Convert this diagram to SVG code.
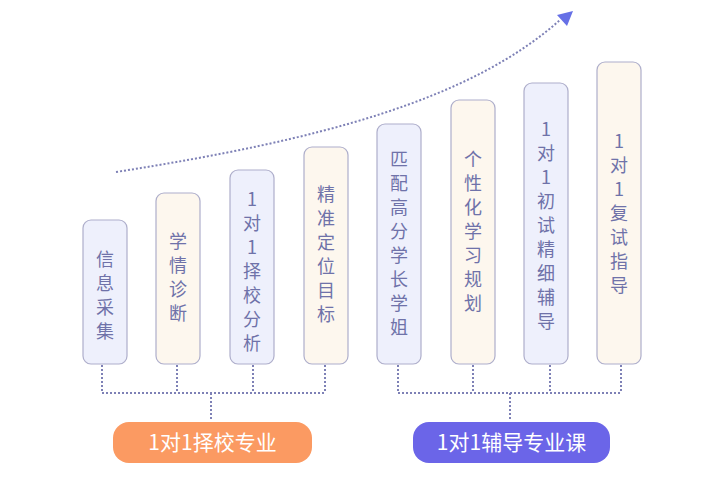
<svg xmlns="http://www.w3.org/2000/svg" width="726" height="480" viewBox="0 0 726 480">
<defs>
<style>
.bar{stroke:#aeaecb;stroke-width:1.2}
.lav{fill:#eef0fc}
.crm{fill:#fdf7ee}
.t{font-family:"Noto Sans CJK SC","Noto Sans",sans-serif;font-size:18px;fill:#6f72a9;text-anchor:middle}
.dot{fill:none;stroke:#7e81b6;stroke-width:2;stroke-dasharray:2 2}
.btxt{font-family:"Noto Sans CJK SC","Noto Sans",sans-serif;font-size:21px;fill:#ffffff;text-anchor:middle}
</style>
</defs>
<rect width="726" height="480" fill="#ffffff"/>
<g id="connectors">
<path class="dot" d="M116,172 C320,140 470,100 560,20"/>
<polygon points="573,11 557,15 567,26" fill="#6670e6"/>
<path class="dot" d="M102,365 V393 M177,365 V393 M253,365 V393 M325,365 V393 M102,393 H325 M211,393 V421"/>
<path class="dot" d="M398,365 V393 M473,365 V393 M550,365 V393 M621,365 V393 M398,393 H621 M510,393 V421"/>
</g>
<g id="n1"><rect class="bar lav" x="83" y="220" width="44" height="144" rx="8"/>
<text class="t" x="105"><tspan x="105" y="266">信</tspan><tspan x="105" y="290">息</tspan><tspan x="105" y="314">采</tspan><tspan x="105" y="338">集</tspan></text></g>
<g id="n2"><rect class="bar crm" x="156" y="193" width="44" height="171" rx="8"/>
<text class="t"><tspan x="178" y="248">学</tspan><tspan x="178" y="272">情</tspan><tspan x="178" y="296">诊</tspan><tspan x="178" y="320">断</tspan></text></g>
<g id="n3"><rect class="bar lav" x="230" y="170" width="44" height="194" rx="8"/>
<text class="t"><tspan x="252" y="206">1</tspan><tspan x="252" y="230">对</tspan><tspan x="252" y="254">1</tspan><tspan x="252" y="278">择</tspan><tspan x="252" y="302">校</tspan><tspan x="252" y="326">分</tspan><tspan x="252" y="350">析</tspan></text></g>
<g id="n4"><rect class="bar crm" x="304" y="147" width="44" height="217" rx="8"/>
<text class="t"><tspan x="326" y="201">精</tspan><tspan x="326" y="225">准</tspan><tspan x="326" y="249">定</tspan><tspan x="326" y="273">位</tspan><tspan x="326" y="297">目</tspan><tspan x="326" y="321">标</tspan></text></g>
<g id="n5"><rect class="bar lav" x="377" y="124" width="44" height="240" rx="8"/>
<text class="t"><tspan x="399" y="166">匹</tspan><tspan x="399" y="190">配</tspan><tspan x="399" y="214">高</tspan><tspan x="399" y="238">分</tspan><tspan x="399" y="262">学</tspan><tspan x="399" y="286">长</tspan><tspan x="399" y="310">学</tspan><tspan x="399" y="334">姐</tspan></text></g>
<g id="n6"><rect class="bar crm" x="451" y="100" width="44" height="264" rx="8"/>
<text class="t"><tspan x="473" y="166">个</tspan><tspan x="473" y="190">性</tspan><tspan x="473" y="214">化</tspan><tspan x="473" y="238">学</tspan><tspan x="473" y="262">习</tspan><tspan x="473" y="286">规</tspan><tspan x="473" y="310">划</tspan></text></g>
<g id="n7"><rect class="bar lav" x="524" y="83" width="44" height="281" rx="8"/>
<text class="t"><tspan x="546" y="136">1</tspan><tspan x="546" y="160">对</tspan><tspan x="546" y="184">1</tspan><tspan x="546" y="208">初</tspan><tspan x="546" y="232">试</tspan><tspan x="546" y="256">精</tspan><tspan x="546" y="280">细</tspan><tspan x="546" y="304">辅</tspan><tspan x="546" y="328">导</tspan></text></g>
<g id="n8"><rect class="bar crm" x="597" y="62" width="44" height="302" rx="8"/>
<text class="t"><tspan x="619" y="148">1</tspan><tspan x="619" y="172">对</tspan><tspan x="619" y="196">1</tspan><tspan x="619" y="220">复</tspan><tspan x="619" y="244">试</tspan><tspan x="619" y="268">指</tspan><tspan x="619" y="292">导</tspan></text></g>
<g id="b1"><rect x="113" y="422" width="199" height="41" rx="16" fill="#fb9a62"/>
<text class="btxt" x="212.5" y="450">1对1择校专业</text></g>
<g id="b2"><rect x="413" y="422" width="197" height="41" rx="16" fill="#6b65e8"/>
<text class="btxt" x="511.5" y="450">1对1辅导专业课</text></g>
</svg>
